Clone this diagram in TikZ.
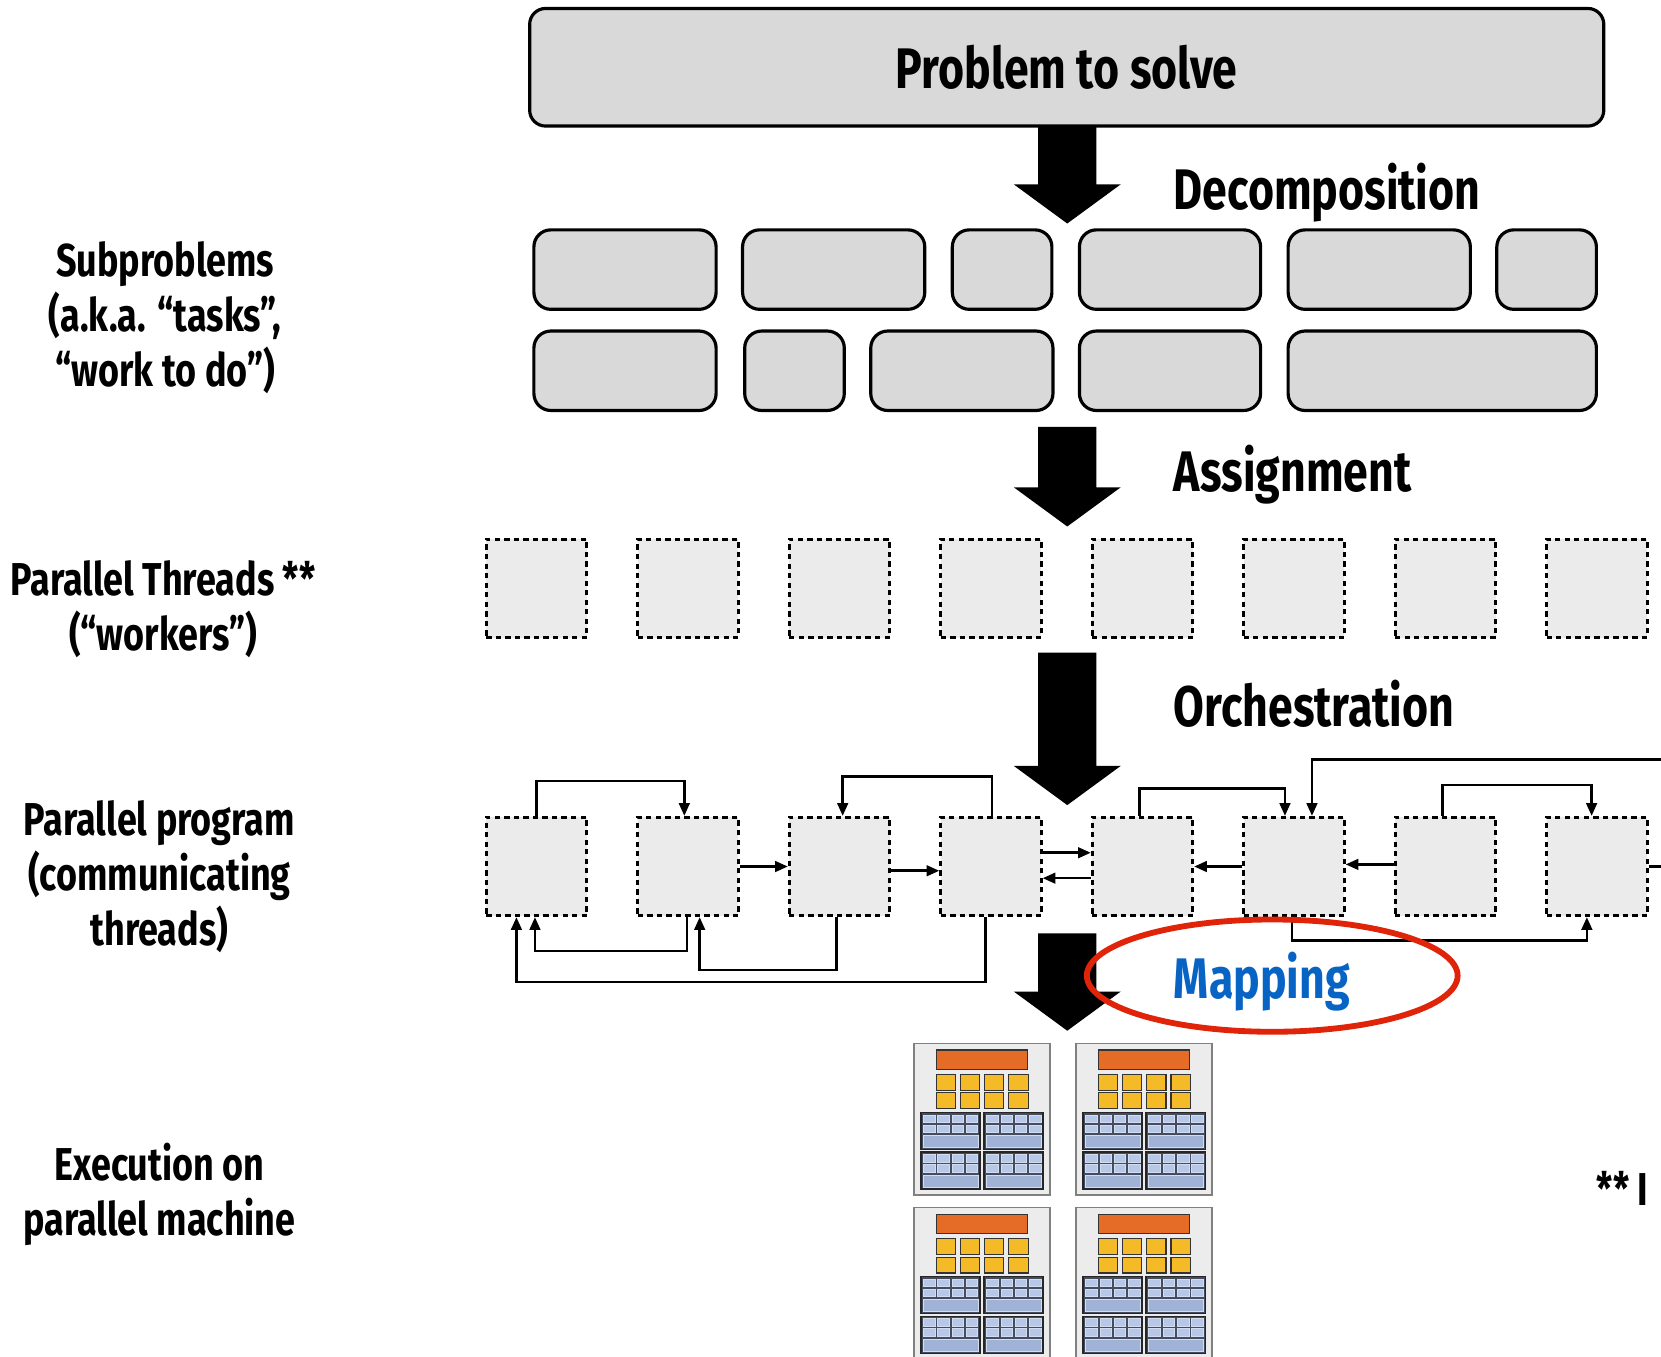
\documentclass[tikz,border=0pt]{standalone}
\usepackage{fontspec}
\newfontfamily\condfont{Fira Sans}[FakeStretch=0.78]
\usetikzlibrary{arrows.meta,positioning}

\definecolor{boxgray}{RGB}{217,217,217}
\definecolor{thrgray}{RGB}{235,235,235}
\definecolor{mapred}{RGB}{224,36,10}
\definecolor{mapblue}{RGB}{8,100,196}
\definecolor{chipgray}{RGB}{236,236,236}
\definecolor{chipedge}{RGB}{128,128,128}
\definecolor{ctlorange}{RGB}{228,108,38}
\definecolor{coreyellow}{RGB}{245,186,40}
\definecolor{slate}{RGB}{68,76,94}
\definecolor{celblue}{RGB}{182,199,232}
\definecolor{barblue}{RGB}{160,178,214}

% 太い下向き矢印: x, 上端, 先端
\newcommand{\stagearrow}[3]{%
  \fill (#1-27.5,#2) -- (#1+27.5,#2) -- (#1+27.5,#3-37) -- (#1+50.5,#3-37)
    -- (#1,#3) -- (#1-50.5,#3-37) -- (#1-27.5,#3-37) -- cycle;}

% チップ1個: 左上の角
\newcommand{\drawchip}[2]{%
  \begin{scope}[shift={(#1,#2)}]
    \filldraw[fill=chipgray, draw=chipedge, line width=1.5pt] (0,0) rectangle (128,143); % 外枠
    \filldraw[fill=ctlorange, draw=black!80, line width=1pt] (20.7,6.2) rectangle (106.7,24.6); % 橙
    \foreach \i in {0,...,3} \foreach \j in {0,1}
      \filldraw[fill=coreyellow, draw=black!80, line width=1pt] (20.7+22.9*\i,29.2+17.5*\j) rectangle ++(18.2,15); % 黄
    \foreach \bx/\by in {6.3/65.3, 65.9/65.3, 6.3/102.6, 65.9/102.6} {
      \filldraw[fill=slate, draw=black!85, line width=1.2pt] (\bx,\by) rectangle ++(55.8,34.8); % 青ブロック
      \foreach \i in {0,...,3} \foreach \j in {0,1}
        \filldraw[fill=celblue, draw=celblue!60!white, line width=0.5pt] (\bx+2.5+13.4*\i,\by+2.2+9.3*\j) rectangle ++(11,7.2);
      \filldraw[fill=barblue, draw=celblue!60!white, line width=0.5pt] (\bx+1.8,\by+21.5) rectangle ++(52.2,11.5);
    }
  \end{scope}}

\begin{document}
\begin{tikzpicture}[x=1pt, y=-1pt,
  probbox/.style={draw, line width=3pt, fill=boxgray, rounded corners=15pt, minimum width=1014pt, minimum height=111pt, inner sep=0pt, font=\condfont\bfseries\fontsize{54}{60}\selectfont},
  task/.style={draw, line width=3pt, fill=boxgray, rounded corners=16pt, minimum height=75pt, inner sep=0pt},
  worker/.style={draw, line width=2.6pt, dash pattern=on 5pt off 4pt, fill=thrgray, minimum width=95pt, minimum height=93pt, inner sep=0pt},
  stage/.style={anchor=base west, inner sep=0pt, font=\condfont\bfseries\fontsize{54}{60}\selectfont},
  side/.style={anchor=base, align=center, inner sep=0pt, font=\condfont\bfseries\fontsize{43.5}{52}\selectfont},
  link/.style={line width=2.4pt, -{Triangle[length=12pt,width=10pt]}}]
  \useasboundingbox (0,0) rectangle (1568,1281); % 余白込みの大きさ

  \node[probbox] (prob) at (1007,63.5) {Problem to solve}; % 問題

  % 左の説明 (base は最後の行)
  \node[side] (lsub) at (156,365) {Subproblems\\(a.k.a. “tasks”,\\“work to do”)};
  \node[side] (lthr) at (154,614) {Parallel Threads **\\(“workers”)};
  \node[side] (lprog) at (150.5,893) {Parallel program\\(communicating\\threads)};
  \node[side] (lexec) at (150.5,1166) {Execution on\\parallel machine};
  \node[side, anchor=base west] (lnote) at (1507,1138) {** I};

  % 段階の名前
  \node[stage] (ldec) at (1108,198) {Decomposition};
  \node[stage] (lass) at (1108,464) {Assignment};
  \node[stage] (lorc) at (1108,686) {Orchestration};

  % 太い矢印
  \stagearrow{1007.5}{119}{211}
  \stagearrow{1007.5}{403}{497}
  \stagearrow{1007.5}{616}{760}
  \stagearrow{1007.5}{881}{973}

  % 部分問題
  \foreach \cx/\w [count=\k] in {590/172, 787/172, 946/94, 1104.5/171, 1302/172, 1460/94}
    \node[task, minimum width=\w] (ta\k) at (\cx,254.5) {};
  \foreach \cx/\w [count=\k] in {590/172, 750/94, 908/172, 1104.5/171, 1361.5/291}
    \node[task, minimum width=\w] (tb\k) at (\cx,350) {};

  % スレッドとプログラム
  \foreach \k in {1,...,8} {
    \node[worker] (w\k) at ({506.5+143*(\k-1)},555.5) {};
    \node[worker] (p\k) at ({506.5+143*(\k-1)},818) {};
  }

  % 通信
  \draw[link] (p1.north) -- ++(0,-33) -| ([xshift=-3.5pt]p2.north);
  \draw[link] ([xshift=1pt]p4.north) -- ++(0,-37) -| ([xshift=3pt]p3.north);
  \draw[link] (p2.east) -- (p3.west);
  \draw[link] ([yshift=-4pt]p3.east) -- ([yshift=-4pt]p4.west);
  \draw[link] ([xshift=-1pt]p2.south) -- ++(0,32) -| ([xshift=-1.5pt]p1.south);
  \draw[link] ([xshift=-3pt]p3.south) -- ++(0,50) -| ([xshift=11pt]p2.south);
  \draw[link] ([xshift=-5pt]p4.south) -- ++(0,61) -| ([xshift=-19pt]p1.south);
  \draw[link] ([yshift=13pt]p4.east) -- ([yshift=13pt]p5.west);
  \draw[link] ([yshift=-11pt]p5.west) -- ([yshift=-11pt]p4.east);
  \draw[link] (p6.west) -- (p5.east);
  \draw[link] ([yshift=2pt]p7.west) -- ([yshift=2pt]p6.east);
  \coordinate (outr) at (1600,818);
  \draw[line width=2.4pt] (p8.east) -- (outr); % 右へ出る線
  \draw[link] ([xshift=-3pt]p5.north) -- ++(0,-26) -| ([xshift=-8.5pt]p6.north);
  \coordinate (outt) at (1600,717);
  \draw[link] (outt) -| ([xshift=17pt]p6.north); % 右から来る線
  \draw[link] ([xshift=-3pt]p7.north) -- ++(0,-29) -| ([xshift=-5pt]p8.north);
  \draw[link] ([xshift=-2pt]p6.south) -- ++(0,22) -| ([xshift=-9.5pt]p8.south);

  % 実行するマシン
  \drawchip{863}{985}
  \drawchip{1016}{985}
  \drawchip{863}{1140}
  \drawchip{1016}{1140}

  % Mapping
  \node[stage, text=mapblue] (lmap) at (1108,943) {Mapping};
  \draw[mapred, line width=5.5pt] (1201,921) ellipse [x radius=175, y radius=53];
\end{tikzpicture}
\end{document}
